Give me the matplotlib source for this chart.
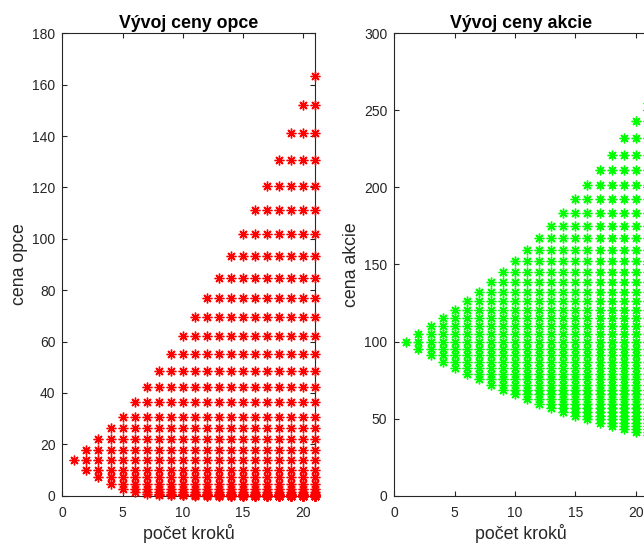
import numpy as np
import matplotlib.pyplot as plt

plt.rcParams['font.family'] = ['Liberation Sans', 'DejaVu Sans']

# Počet kroků stromu a úrovně uzlů (počet pohybů nahoru minus dolů)
steps = np.arange(1, 22)
levels = np.arange(-20, 21)

# Cena akcie v jednotlivých úrovních stromu (úroveň -20 .. 20)
stock_levels = [39.3, 41.2, 43.1, 45.2, 47.4, 49.6, 52.0, 54.5, 57.1, 59.8,
                62.7, 65.7, 68.8, 72.1, 75.6, 79.2, 83.0, 86.9, 91.1, 95.4,
                100.0,
                104.8, 109.8, 115.0, 120.5, 126.3, 132.3, 138.7, 145.3, 152.3, 159.5,
                167.2, 175.2, 183.5, 192.3, 201.5, 211.1, 221.2, 231.8, 242.9, 254.5]

# Cena opce v jednotlivých úrovních stromu (úroveň -20 .. 20)
option_levels = [0.0, 0.0, 0.0, 0.0, 0.0, 0.0, 0.0, 0.0, 0.01, 0.02,
                 0.04, 0.08, 0.15, 0.3, 0.6, 1.3, 2.7, 4.6, 7.2, 10.1,
                 13.7,
                 17.6, 21.9, 26.3, 30.8, 36.5, 42.4, 48.4, 55.2, 62.2, 69.5,
                 77.0, 84.8, 93.2, 102.0, 111.3, 120.6, 130.8, 141.2, 152.2, 163.5]


# Rozvinutí stromu: v kroku k jsou uzly s úrovní |m| <= k-1
def tree_points(values):
    values = np.asarray(values)
    xs, ys = [], []
    for k in steps:
        mask = np.abs(levels) <= k - 1
        xs.append(np.full(mask.sum(), k))
        ys.append(values[mask])
    return np.concatenate(xs), np.concatenate(ys)


axis_color = '#262626'
asterisk = (8, 2, 0)
label_size = 12.8

fig = plt.figure(figsize=(6.44, 5.44), dpi=100)
ax1 = fig.add_axes([0.0970, 0.0888, 0.3916, 0.850])
ax2 = fig.add_axes([0.6123, 0.0888, 0.3936, 0.850])


def style_axes(ax):
    for s in ax.spines.values():
        s.set_color(axis_color)
        s.set_linewidth(0.8)
    ax.tick_params(direction='in', length=3.6, width=0.8, color=axis_color,
                   labelcolor=axis_color, labelsize=10, top=True, right=True)
    ax.tick_params(axis='x', pad=7.5)
    ax.tick_params(axis='y', pad=5)
    ax.set_xlim(0, 21)
    ax.set_xticks([0, 5, 10, 15, 20])
    ax.set_xlabel('počet kroků', fontsize=label_size, color=axis_color, labelpad=3)


# Vývoj ceny opce
x, y = tree_points(option_levels)
ax1.plot(x, y, linestyle='none', marker=asterisk, markersize=7,
         markeredgewidth=1.0, color=(1, 0, 0), clip_on=False, zorder=3)
style_axes(ax1)
ax1.set_ylim(0, 180)
ax1.set_yticks(np.arange(0, 181, 20))
ax1.set_ylabel('cena opce', fontsize=label_size, color=axis_color, labelpad=3)
ax1.set_title('Vývoj ceny opce', fontsize=label_size, fontweight='bold', pad=4)

# Vývoj ceny akcie
x, y = tree_points(stock_levels)
ax2.plot(x, y, linestyle='none', marker=asterisk, markersize=7,
         markeredgewidth=1.0, color=(0, 1, 0), clip_on=False, zorder=3)
style_axes(ax2)
ax2.set_ylim(0, 300)
ax2.set_yticks(np.arange(0, 301, 50))
ax2.set_ylabel('cena akcie', fontsize=label_size, color=axis_color, labelpad=3)
ax2.set_title('Vývoj ceny akcie', fontsize=label_size, fontweight='bold', pad=4)

fig.savefig('out.png', dpi=100)
